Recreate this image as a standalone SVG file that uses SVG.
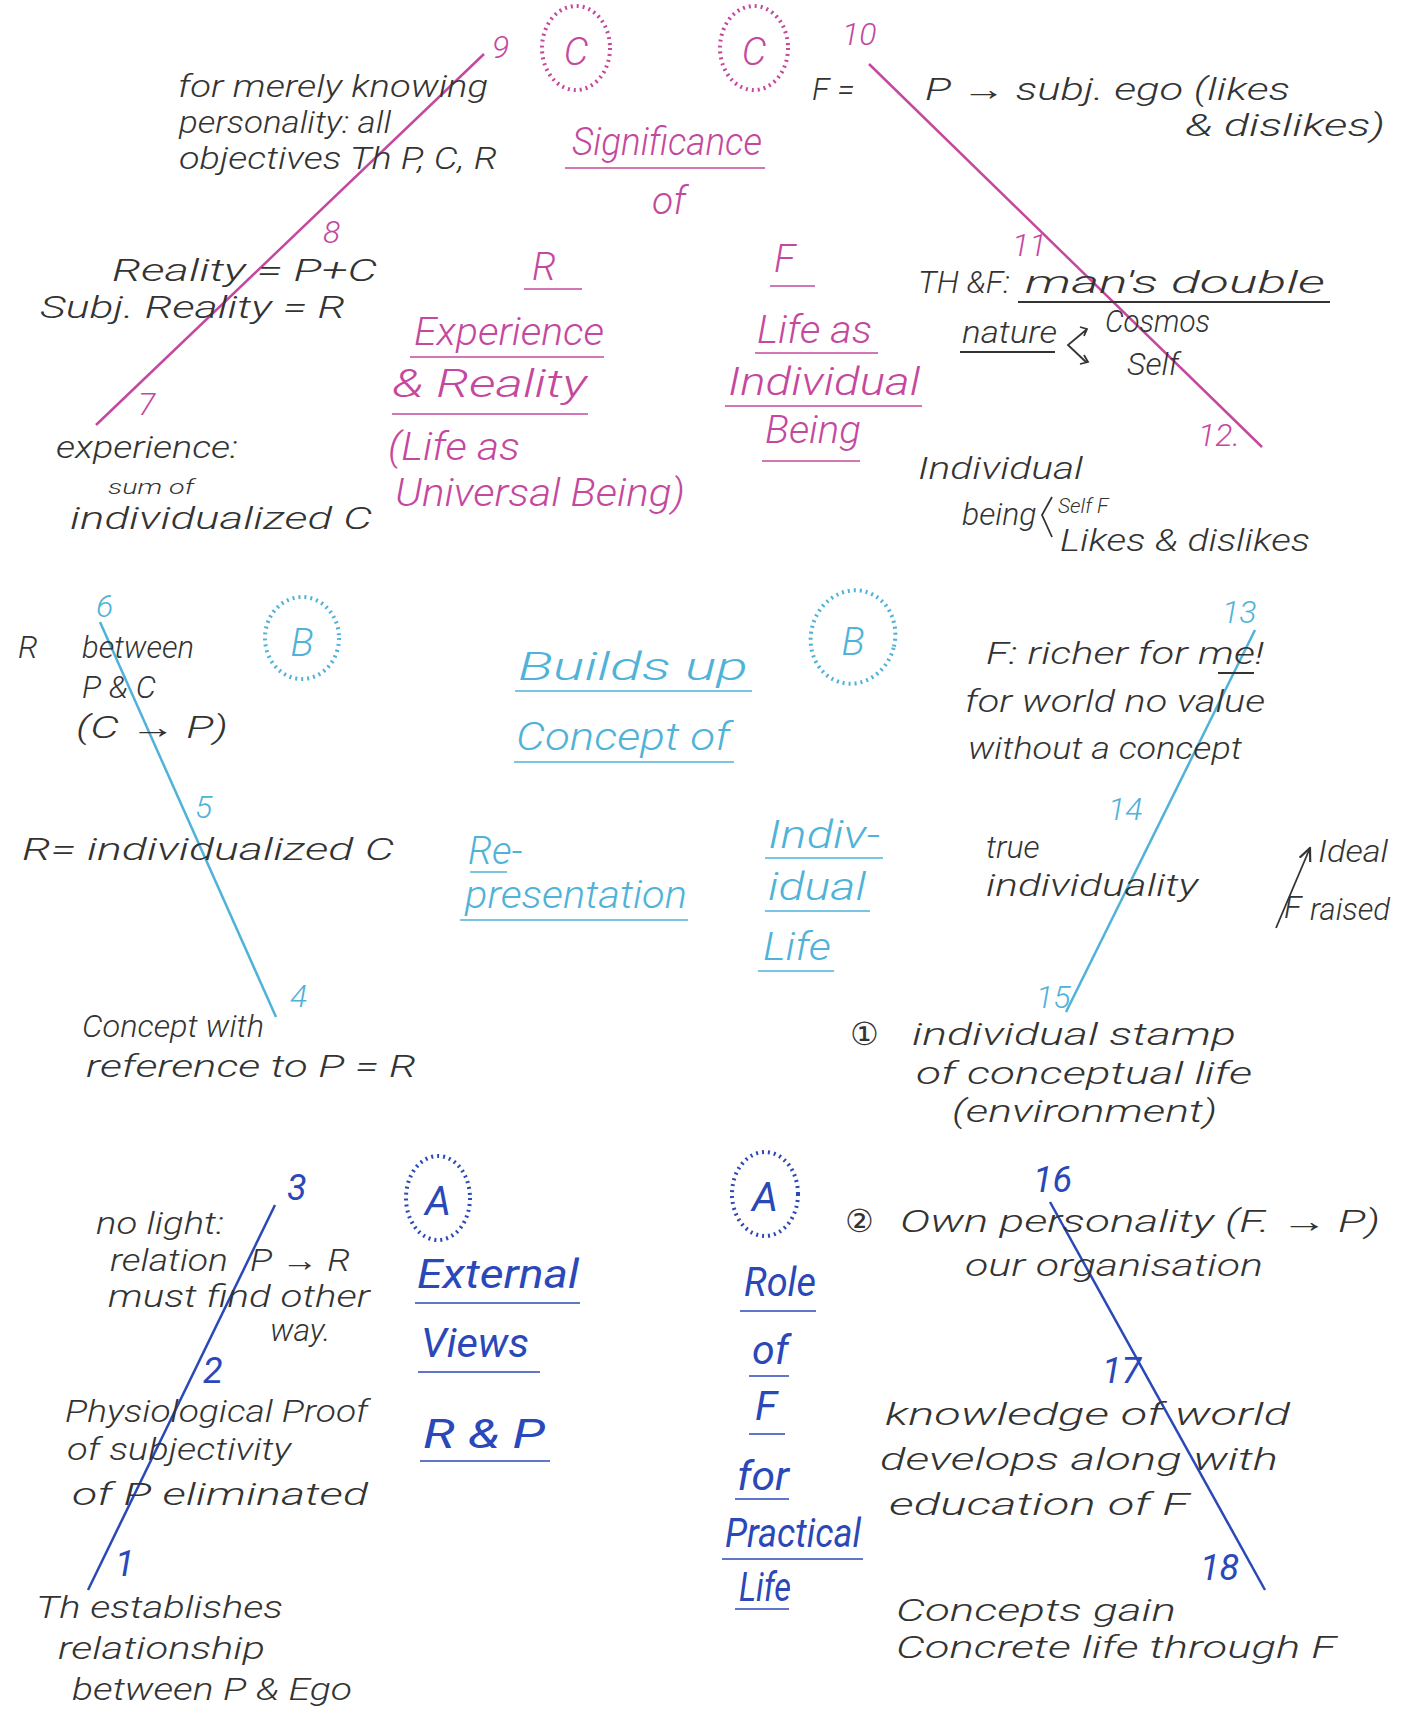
<svg xmlns="http://www.w3.org/2000/svg" width="1406" height="1718" viewBox="0 0 1406 1718">
<defs>
<style>
text{font-family:"Roboto","Liberation Sans","DejaVu Sans",sans-serif;font-style:italic;font-weight:300}
.k{fill:#333333;font-size:32px}
.ks{fill:#333333;font-size:21px}
.m{fill:#c4489e;font-size:39px}
.mn{fill:#c4489e;font-size:32px}
.c{fill:#4fb2d8;font-size:39px}
.cn{fill:#4fb2d8;font-size:32px}
.b{fill:#2a48b8;font-size:41px;font-weight:400}
.bn{fill:#2a48b8;font-size:36px;font-weight:400}
.ml{stroke:#c4489e;stroke-width:2.5;fill:none}
.cl{stroke:#4fb2d8;stroke-width:2.5;fill:none}
.bl{stroke:#2a48b8;stroke-width:2.5;fill:none}
.u{stroke-width:1.6}
.kl{stroke:#333333;stroke-width:1.8;fill:none}
.md{stroke:#c4489e;stroke-width:4;fill:none;stroke-dasharray:2 4}
.cd{stroke:#4fb2d8;stroke-width:4;fill:none;stroke-dasharray:2 4}
.bd{stroke:#2a48b8;stroke-width:4;fill:none;stroke-dasharray:2 4}
</style>
<marker id="ah" viewBox="0 0 10 10" refX="9" refY="5" markerWidth="8" markerHeight="8" orient="auto"><path d="M0,1 L9,5 L0,9" fill="none" stroke="#333333" stroke-width="1.5"/></marker>
</defs>
<rect width="1406" height="1718" fill="#ffffff"/>

<g id="connectors">
<line class="ml" x1="484" y1="54" x2="96" y2="425"/>
<line class="ml" x1="869" y1="64" x2="1262" y2="447"/>
<line class="cl" x1="100" y1="622" x2="276" y2="1017"/>
<line class="cl" x1="1255" y1="630" x2="1066" y2="1012"/>
<line class="bl" x1="275" y1="1205" x2="88" y2="1590"/>
<line class="bl" x1="1050" y1="1202" x2="1265" y2="1590"/>
</g>

<g id="section-C">
<g id="circle-C1"><ellipse class="md" cx="576" cy="48" rx="34" ry="42"/><text class="m" x="576" y="65" text-anchor="middle" font-size="48">C</text></g>
<g id="circle-C2"><ellipse class="md" cx="754" cy="48" rx="34" ry="42"/><text class="m" x="754" y="65" text-anchor="middle" font-size="48">C</text></g>
<g id="title-C">
<text class="m" x="572" y="155" textLength="190" lengthAdjust="spacingAndGlyphs">Significance</text>
<line class="ml u" x1="565" y1="168" x2="765" y2="168"/>
<text class="m" x="652" y="214">of</text>
<text class="m" x="532" y="280" font-size="54">R</text>
<line class="ml u" x1="524" y1="289" x2="582" y2="289"/>
<text class="m" x="774" y="272" font-size="50">F</text>
<line class="ml u" x1="770" y1="286" x2="815" y2="286"/>
<text class="m" x="414" y="345" textLength="190" lengthAdjust="spacingAndGlyphs">Experience</text>
<line class="ml u" x1="410" y1="357" x2="604" y2="357"/>
<text class="m" x="392" y="397" textLength="195" lengthAdjust="spacingAndGlyphs">&amp; Reality</text>
<line class="ml u" x1="392" y1="414" x2="588" y2="414"/>
<text class="m" x="388" y="460" textLength="132" lengthAdjust="spacingAndGlyphs">(Life as</text>
<text class="m" x="395" y="506" textLength="290" lengthAdjust="spacingAndGlyphs">Universal Being)</text>
<text class="m" x="757" y="343" textLength="115" lengthAdjust="spacingAndGlyphs">Life as</text>
<line class="ml u" x1="755" y1="353" x2="878" y2="353"/>
<text class="m" x="728" y="395" textLength="192" lengthAdjust="spacingAndGlyphs">Individual</text>
<line class="ml u" x1="725" y1="406" x2="922" y2="406"/>
<text class="m" x="765" y="443" textLength="96" lengthAdjust="spacingAndGlyphs">Being</text>
<line class="ml u" x1="762" y1="461" x2="860" y2="461"/>
</g>
<g id="nums-C">
<text class="mn" x="492" y="58" font-size="36">9</text>
<text class="mn" x="842" y="45">10</text>
<text class="mn" x="323" y="243">8</text>
<text class="mn" x="138" y="415">7</text>
<text class="mn" x="1012" y="256">11</text>
<text class="mn" x="1198" y="446">12.</text>
</g>
</g>

<g id="notes-C">
<g id="n9"><text class="k" x="178" y="97" textLength="310" lengthAdjust="spacingAndGlyphs">for merely knowing</text>
<text class="k" x="179" y="133" textLength="212" lengthAdjust="spacingAndGlyphs">personality: all</text>
<text class="k" x="179" y="169" textLength="318" lengthAdjust="spacingAndGlyphs">objectives Th P, C, R</text></g>
<g id="n8"><text class="k" x="112" y="281" textLength="265" lengthAdjust="spacingAndGlyphs" font-size="30">Reality = P+C</text>
<text class="k" x="40" y="318" textLength="305" lengthAdjust="spacingAndGlyphs" font-size="30">Subj. Reality = R</text></g>
<g id="n7"><text class="k" x="56" y="458" textLength="182" lengthAdjust="spacingAndGlyphs">experience:</text>
<text class="ks" x="108" y="494" textLength="86" lengthAdjust="spacingAndGlyphs">sum of</text>
<text class="k" x="70" y="529" textLength="302" lengthAdjust="spacingAndGlyphs">individualized C</text></g>
<g id="n10"><text class="k" x="812" y="100">F =</text>
<text class="k" x="925" y="100" textLength="365" lengthAdjust="spacingAndGlyphs">P → subj. ego (likes</text>
<text class="k" x="1185" y="136" textLength="200" lengthAdjust="spacingAndGlyphs">&amp; dislikes)</text></g>
<g id="n11"><text class="k" x="918" y="293" textLength="92" lengthAdjust="spacingAndGlyphs">TH &amp;F:</text>
<text class="k" x="1025" y="293" textLength="300" lengthAdjust="spacingAndGlyphs">man's  double</text>
<line class="kl" x1="1018" y1="302" x2="1330" y2="302"/>
<text class="k" x="962" y="343" textLength="95" lengthAdjust="spacingAndGlyphs">nature</text>
<line class="kl" x1="960" y1="352" x2="1055" y2="352"/>
<path class="kl" d="M1086,330 L1068,345 L1086,362 M1080,327 L1087,329 L1084,336 M1080,364 L1088,362 L1084,355"/>
<text class="k" x="1105" y="332" textLength="105" lengthAdjust="spacingAndGlyphs">Cosmos</text>
<text class="k" x="1127" y="375">Self</text></g>
<g id="n12"><text class="k" x="918" y="479" textLength="165" lengthAdjust="spacingAndGlyphs">Individual</text>
<text class="k" x="962" y="525">being</text>
<path class="kl" d="M1052,497 L1042,515 L1052,537"/>
<text class="ks" x="1058" y="513" font-size="23">Self F</text>
<text class="k" x="1060" y="551" textLength="250" lengthAdjust="spacingAndGlyphs">Likes &amp; dislikes</text></g>
</g>

<g id="section-B">
<g id="circle-B1"><ellipse class="cd" cx="302" cy="638" rx="37" ry="41"/><text class="c" x="302" y="656" text-anchor="middle" font-size="48">B</text></g>
<g id="circle-B2"><ellipse class="cd" cx="853" cy="637" rx="42" ry="47" transform="rotate(15 853 637)"/><text class="c" x="853" y="655" text-anchor="middle" font-size="48">B</text></g>
<g id="title-B">
<text class="c" x="518" y="680" textLength="230" lengthAdjust="spacingAndGlyphs">Builds up</text>
<line class="cl u" x1="515" y1="691" x2="752" y2="691"/>
<text class="c" x="516" y="750" textLength="214" lengthAdjust="spacingAndGlyphs">Concept of</text>
<line class="cl u" x1="514" y1="762" x2="734" y2="762"/>
<text class="c" x="468" y="864">Re-</text>
<line class="cl u" x1="470" y1="872" x2="507" y2="872"/>
<text class="c" x="465" y="908" textLength="222" lengthAdjust="spacingAndGlyphs">presentation</text>
<line class="cl u" x1="460" y1="920" x2="688" y2="920"/>
<text class="c" x="768" y="848" textLength="112" lengthAdjust="spacingAndGlyphs">Indiv-</text>
<line class="cl u" x1="765" y1="858" x2="883" y2="858"/>
<text class="c" x="768" y="900" textLength="98" lengthAdjust="spacingAndGlyphs">idual</text>
<line class="cl u" x1="765" y1="911" x2="870" y2="911"/>
<text class="c" x="763" y="960" textLength="68" lengthAdjust="spacingAndGlyphs">Life</text>
<line class="cl u" x1="758" y1="971" x2="834" y2="971"/>
</g>
<g id="nums-B">
<text class="cn" x="96" y="617">6</text>
<text class="cn" x="195" y="818">5</text>
<text class="cn" x="290" y="1007">4</text>
<text class="cn" x="1222" y="623">13</text>
<text class="cn" x="1108" y="820">14</text>
<text class="cn" x="1036" y="1008">15</text>
</g>
</g>

<g id="notes-B">
<g id="n6"><text class="k" x="18" y="658">R</text><text class="k" x="82" y="658" textLength="112" lengthAdjust="spacingAndGlyphs">between</text>
<text class="k" x="82" y="698">P &amp; C</text>
<text class="k" x="76" y="738" textLength="152" lengthAdjust="spacingAndGlyphs">(C → P)</text></g>
<g id="n5"><text class="k" x="22" y="860" textLength="372" lengthAdjust="spacingAndGlyphs">R= individualized C</text></g>
<g id="n4"><text class="k" x="82" y="1037" textLength="182" lengthAdjust="spacingAndGlyphs">Concept with</text>
<text class="k" x="86" y="1077" textLength="330" lengthAdjust="spacingAndGlyphs">reference to P = R</text></g>
<g id="n13"><text class="k" x="986" y="664" textLength="278" lengthAdjust="spacingAndGlyphs">F: richer for me!</text>
<line class="kl" x1="1218" y1="673" x2="1254" y2="673"/>
<text class="k" x="965" y="712" textLength="300" lengthAdjust="spacingAndGlyphs">for world no value</text>
<text class="k" x="968" y="759" textLength="274" lengthAdjust="spacingAndGlyphs">without a concept</text></g>
<g id="n14"><text class="k" x="986" y="858">true</text>
<text class="k" x="986" y="896" textLength="212" lengthAdjust="spacingAndGlyphs">individuality</text>
<line class="kl" x1="1276" y1="928" x2="1310" y2="848" marker-end="url(#ah)"/>
<text class="k" x="1318" y="862" textLength="70" lengthAdjust="spacingAndGlyphs">Ideal</text>
<text class="k" x="1284" y="918">F</text>
<text class="k" x="1310" y="920" textLength="80" lengthAdjust="spacingAndGlyphs">raised</text></g>
<g id="n15"><text class="k" x="850" y="1045">①</text>
<text class="k" x="912" y="1045" textLength="324" lengthAdjust="spacingAndGlyphs">individual stamp</text>
<text class="k" x="916" y="1084" textLength="336" lengthAdjust="spacingAndGlyphs">of conceptual life</text>
<text class="k" x="952" y="1122" textLength="265" lengthAdjust="spacingAndGlyphs" font-size="30">(environment)</text></g>
</g>

<g id="section-A">
<g id="circle-A1"><ellipse class="bd" cx="438" cy="1198" rx="32" ry="42"/><text class="b" x="438" y="1215" text-anchor="middle" font-size="48">A</text></g>
<g id="circle-A2"><ellipse class="bd" cx="765" cy="1194" rx="33" ry="42"/><text class="b" x="765" y="1211" text-anchor="middle" font-size="48">A</text></g>
<g id="title-A">
<text class="b" x="417" y="1288" textLength="162" lengthAdjust="spacingAndGlyphs">External</text>
<line class="bl u" x1="415" y1="1303" x2="580" y2="1303"/>
<text class="b" x="421" y="1357" textLength="108" lengthAdjust="spacingAndGlyphs">Views</text>
<line class="bl u" x1="418" y1="1372" x2="540" y2="1372"/>
<text class="b" x="423" y="1448" textLength="122" lengthAdjust="spacingAndGlyphs">R &amp; P</text>
<line class="bl u" x1="420" y1="1461" x2="550" y2="1461"/>
<text class="b" x="744" y="1296" textLength="72" lengthAdjust="spacingAndGlyphs">Role</text>
<line class="bl u" x1="740" y1="1311" x2="816" y2="1311"/>
<text class="b" x="752" y="1364">of</text>
<line class="bl u" x1="749" y1="1376" x2="789" y2="1376"/>
<text class="b" x="755" y="1420">F</text>
<line class="bl u" x1="749" y1="1434" x2="785" y2="1434"/>
<text class="b" x="737" y="1490" textLength="52" lengthAdjust="spacingAndGlyphs">for</text>
<line class="bl u" x1="735" y1="1499" x2="789" y2="1499"/>
<text class="b" x="725" y="1547" textLength="136" lengthAdjust="spacingAndGlyphs">Practical</text>
<line class="bl u" x1="722" y1="1559" x2="863" y2="1559"/>
<text class="b" x="739" y="1601" textLength="52" lengthAdjust="spacingAndGlyphs">Life</text>
<line class="bl u" x1="735" y1="1609" x2="789" y2="1609"/>
</g>
<g id="nums-A">
<text class="bn" x="287" y="1200">3</text>
<text class="bn" x="203" y="1383">2</text>
<text class="bn" x="115" y="1576">1</text>
<text class="bn" x="1033" y="1192">16</text>
<text class="bn" x="1102" y="1383">17</text>
<text class="bn" x="1200" y="1580">18</text>
</g>
</g>

<g id="notes-A">
<g id="n3"><text class="k" x="96" y="1234" textLength="128" lengthAdjust="spacingAndGlyphs">no light:</text>
<text class="k" x="110" y="1271" textLength="118" lengthAdjust="spacingAndGlyphs">relation</text><text class="k" x="250" y="1271" textLength="100" lengthAdjust="spacingAndGlyphs">P → R</text>
<text class="k" x="108" y="1307" textLength="262" lengthAdjust="spacingAndGlyphs">must find other</text>
<text class="k" x="270" y="1341">way.</text></g>
<g id="n2"><text class="k" x="65" y="1422" textLength="303" lengthAdjust="spacingAndGlyphs">Physiological Proof</text>
<text class="k" x="67" y="1460" textLength="224" lengthAdjust="spacingAndGlyphs">of subjectivity</text>
<text class="k" x="72" y="1505" textLength="296" lengthAdjust="spacingAndGlyphs">of P eliminated</text></g>
<g id="n1"><text class="k" x="36" y="1618" textLength="247" lengthAdjust="spacingAndGlyphs">Th establishes</text>
<text class="k" x="58" y="1659" textLength="207" lengthAdjust="spacingAndGlyphs">relationship</text>
<text class="k" x="72" y="1700" textLength="280" lengthAdjust="spacingAndGlyphs">between P &amp; Ego</text></g>
<g id="n16"><text class="k" x="845" y="1232">②</text>
<text class="k" x="900" y="1232" textLength="480" lengthAdjust="spacingAndGlyphs">Own personality (F. → P)</text>
<text class="k" x="965" y="1276" textLength="298" lengthAdjust="spacingAndGlyphs">our organisation</text></g>
<g id="n17"><text class="k" x="885" y="1425" textLength="405" lengthAdjust="spacingAndGlyphs">knowledge of world</text>
<text class="k" x="880" y="1470" textLength="398" lengthAdjust="spacingAndGlyphs">develops along with</text>
<text class="k" x="889" y="1515" textLength="300" lengthAdjust="spacingAndGlyphs">education of F</text></g>
<g id="n18"><text class="k" x="896" y="1621" textLength="280" lengthAdjust="spacingAndGlyphs">Concepts gain</text>
<text class="k" x="896" y="1658" textLength="440" lengthAdjust="spacingAndGlyphs">Concrete life through F</text></g>
</g>
</svg>
